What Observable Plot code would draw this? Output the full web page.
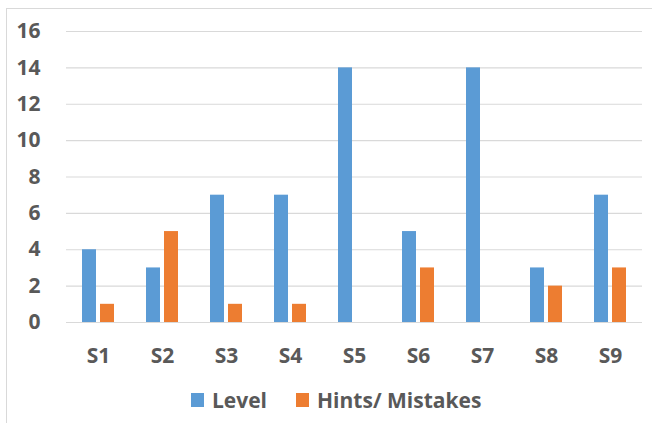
<!DOCTYPE html>
<html>
<head>
<meta charset="utf-8">
<script src="https://cdn.jsdelivr.net/npm/d3@7"></script>
<script src="https://cdn.jsdelivr.net/npm/@observablehq/plot@0.6"></script>
<style>
  html, body { margin: 0; padding: 0; background: #fff; }
  #wrap { position: relative; width: 652px; height: 423px; overflow: hidden; font-family: "Open Sans", sans-serif; }
  #frame { position: absolute; left: 6px; top: 8px; width: 700px; height: 500px; border-left: 1px solid #d9d9d9; border-top: 1px solid #d9d9d9; pointer-events: none; }
  #chart { position: absolute; left: 0; top: 0; }
  #legend { position: absolute; top: 386px; left: 191px; display: flex; align-items: center; font-weight: 700; font-size: 21px; color: #595959; white-space: nowrap; }
  .sw { display: inline-block; width: 13px; height: 14px; margin-right: 8px; }
  .item { display: flex; align-items: center; }
</style>
</head>
<body>
<div id="wrap">
  <div id="frame"></div>
  <div id="chart"></div>
  <div id="legend"></div>
</div>
<script>
const categories = ["S1", "S2", "S3", "S4", "S5", "S6", "S7", "S8", "S9"];
const levelValues = [4, 3, 7, 7, 14, 5, 14, 3, 7];
const hintValues = [1, 5, 1, 1, 0, 3, 0, 2, 3];
const seriesNames = ["Level", "Hints/ Mistakes"];
const seriesColors = ["#5b9bd5", "#ed7d31"];
const yTicks = [0, 2, 4, 6, 8, 10, 12, 14, 16];

const levelData = categories.map((c, i) => ({cat: c, value: levelValues[i]}));
const hintData = categories.map((c, i) => ({cat: c, value: hintValues[i]}));

const textColor = "#595959";

const chart = Plot.plot({
  width: 652,
  height: 375,
  marginLeft: 66,
  marginRight: 10,
  marginTop: 31,
  marginBottom: 53,
  style: {fontFamily: "'Open Sans', sans-serif", fontWeight: 700, background: "transparent"},
  x: {domain: categories, padding: 0},
  y: {domain: [0, 16]},
  marks: [
    Plot.ruleY(yTicks, {stroke: "#d9d9d9", strokeWidth: 1.2}),
    Plot.barY(levelData, {x: "cat", y: "value", fill: seriesColors[0], insetLeft: 25, insetRight: 25, dx: -9}),
    Plot.barY(hintData, {x: "cat", y: "value", fill: seriesColors[1], insetLeft: 25, insetRight: 25, dx: 9}),
    Plot.axisY({ticks: yTicks, tickSize: 0, tickPadding: 26, label: null, fontSize: 21, fontWeight: 700, fill: textColor, color: textColor}),
    Plot.axisX({tickSize: 0, tickPadding: 26, label: null, fontSize: 21, fontWeight: 700, fill: textColor, color: textColor})
  ]
});
document.getElementById("chart").appendChild(chart);

const legend = document.getElementById("legend");
seriesNames.forEach((name, i) => {
  const item = document.createElement("span");
  item.className = "item";
  item.style.marginRight = i === 0 ? "29px" : "0";
  const sw = document.createElement("span");
  sw.className = "sw";
  sw.style.background = seriesColors[i];
  item.appendChild(sw);
  item.appendChild(document.createTextNode(name));
  legend.appendChild(item);
});
</script>
</body>
</html>
